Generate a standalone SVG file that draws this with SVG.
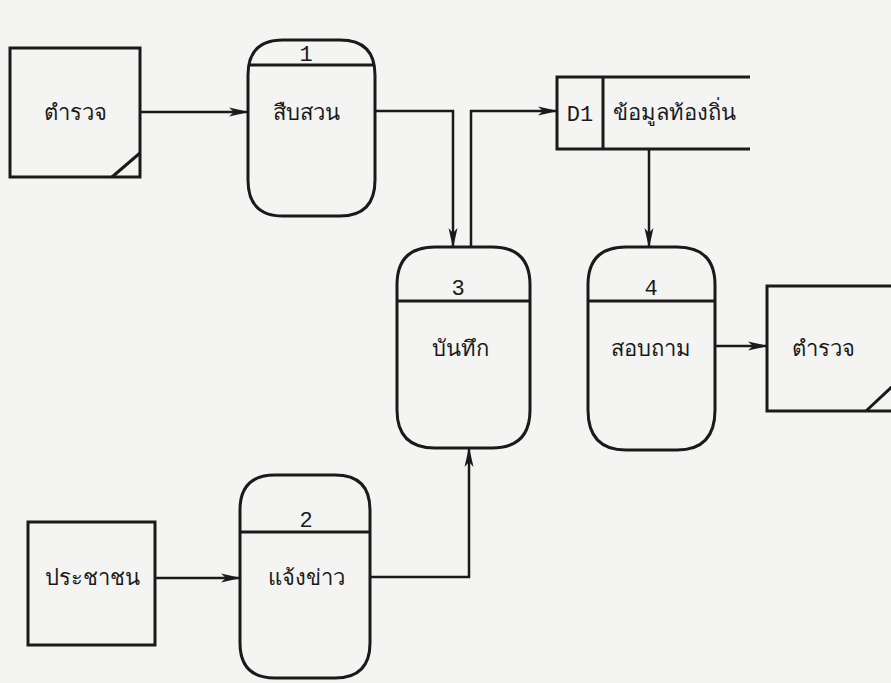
<svg xmlns="http://www.w3.org/2000/svg" width="891" height="683" viewBox="0 0 891 683">
<defs>
<style>
.shape{fill:none;stroke:#1a1a1a;stroke-width:3}
.line{fill:none;stroke:#1a1a1a;stroke-width:2.5}
.t{font-family:"Noto Sans","DejaVu Sans",sans-serif;font-size:22px;fill:#1a1a1a;text-anchor:middle}
.n{font-family:"Liberation Mono","DejaVu Sans Mono",monospace;font-size:22px;fill:#1a1a1a;text-anchor:middle}
</style>
<marker id="ah" markerWidth="20" markerHeight="12" refX="19" refY="6" orient="auto" markerUnits="userSpaceOnUse">
<path d="M0,1.5 L20,6 L0,10.5 L5,6 Z" fill="#1a1a1a"/>
</marker>
</defs>
<rect width="891" height="683" fill="#f4f4f2"/>

<g id="entity-police-1">
<rect class="shape" x="10" y="48" width="130" height="129"/>
<line class="shape" x1="112" y1="177" x2="140" y2="153"/>
<text class="t" x="75" y="120">ตำรวจ</text>
</g>

<g id="process-1">
<path class="shape" d="M248,75 Q248,40 283,40 L340,40 Q375,40 375,75 L375,180 Q375,216 340,216 L283,216 Q248,216 248,180 Z"/>
<line class="shape" x1="248" y1="65" x2="375" y2="65"/>
<text class="n" x="306" y="61">1</text>
<text class="t" x="306" y="120">สืบสวน</text>
</g>

<g id="store-d1">
<path class="shape" d="M750,77 L557,77 L557,149 L750,149"/>
<line class="shape" x1="603" y1="77" x2="603" y2="149"/>
<text class="n" x="580" y="121">D1</text>
<text class="t" x="674" y="120">ข้อมูลท้องถิ่น</text>
</g>

<g id="process-3">
<path class="shape" d="M397,285 Q397,247 435,247 L492,247 Q530,247 530,285 L530,410 Q530,448 492,448 L435,448 Q397,448 397,410 Z"/>
<line class="shape" x1="397" y1="301" x2="530" y2="301"/>
<text class="n" x="458" y="295">3</text>
<text class="t" x="460" y="356">บันทึก</text>
</g>

<g id="process-4">
<path class="shape" d="M588,285 Q588,247 626,247 L677,247 Q715,247 715,285 L715,410 Q715,450 677,450 L626,450 Q588,450 588,410 Z"/>
<line class="shape" x1="588" y1="301" x2="715" y2="301"/>
<text class="n" x="651" y="295">4</text>
<text class="t" x="651" y="356">สอบถาม</text>
</g>

<g id="entity-police-2">
<rect class="shape" x="767" y="286" width="131" height="125"/>
<line class="shape" x1="866" y1="411" x2="896" y2="383"/>
<text class="t" x="823" y="356">ตำรวจ</text>
</g>

<g id="process-2">
<path class="shape" d="M240,510 Q240,475 275,475 L335,475 Q370,475 370,510 L370,643 Q370,678 335,678 L275,678 Q240,678 240,643 Z"/>
<line class="shape" x1="240" y1="532" x2="370" y2="532"/>
<text class="n" x="306" y="527">2</text>
<text class="t" x="306" y="585">แจ้งข่าว</text>
</g>

<g id="entity-people">
<rect class="shape" x="28" y="522" width="127" height="123"/>
<text class="t" x="92" y="585">ประชาชน</text>
</g>

<g id="connectors">
<line class="line" x1="140" y1="112" x2="248" y2="112" marker-end="url(#ah)"/>
<polyline class="line" points="375,111 453,111 453,247" marker-end="url(#ah)"/>
<polyline class="line" points="471,247 471,111 557,111" marker-end="url(#ah)"/>
<line class="line" x1="649" y1="149" x2="649" y2="247" marker-end="url(#ah)"/>
<line class="line" x1="715" y1="346" x2="767" y2="346" marker-end="url(#ah)"/>
<line class="line" x1="155" y1="578" x2="240" y2="578" marker-end="url(#ah)"/>
<polyline class="line" points="370,577 469,577 469,448" marker-end="url(#ah)"/>
</g>
</svg>
